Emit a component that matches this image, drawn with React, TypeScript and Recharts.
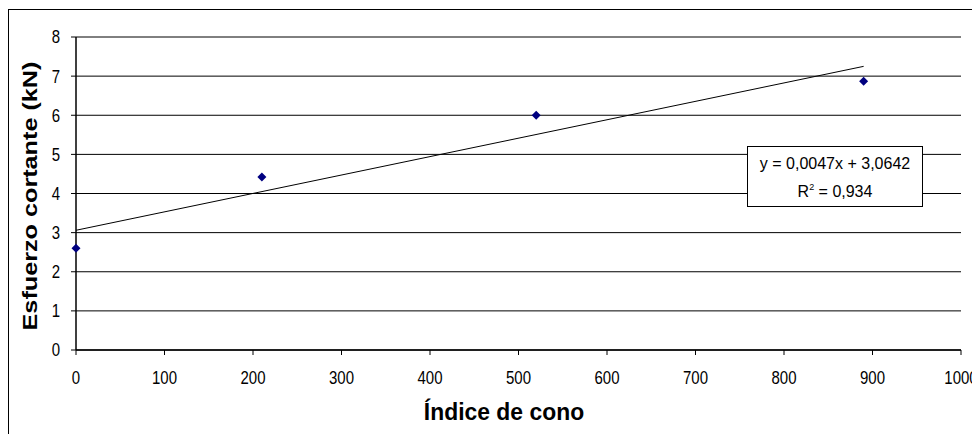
import { ComposedChart, Scatter, Line, XAxis, YAxis, CartesianGrid } from "recharts";

// valores
const indiceCono = [0, 210, 520, 890];
const esfuerzo = [2.6, 4.42, 6.0, 6.87];

// linea de tendencia (extremos)
const trendX = [0, 890];
const trendY = [3.06, 7.25];

const xTicks = [0, 100, 200, 300, 400, 500, 600, 700, 800, 900, 1000];
const yTicks = [0, 1, 2, 3, 4, 5, 6, 7, 8];

const ecuacion = "y = 0,0047x + 3,0642";
const r2 = "0,934";

const points = indiceCono.map((x, i) => ({ x, y: esfuerzo[i] }));
const trend = trendX.map((x, i) => ({ x, t: trendY[i] }));

const font = "'Liberation Sans', Arial, sans-serif";

// etiquetas de los ejes un poco estiradas en vertical, como en el original
const TickX = (props: any) => {
  const { x, y, payload } = props;
  return (
    <g transform={`translate(${x},${y}) scale(1,1.2)`}>
      <text x={0} y={0} dy="0.71em" textAnchor="middle" fontFamily={font} fontSize={15} fill="#000">
        {payload.value}
      </text>
    </g>
  );
};

const TickY = (props: any) => {
  const { x, y, payload } = props;
  return (
    <g transform={`translate(${x},${y}) scale(1,1.2)`}>
      <text x={0} y={0} dy="0.355em" textAnchor="end" fontFamily={font} fontSize={15} fill="#000">
        {payload.value}
      </text>
    </g>
  );
};

const Diamond = (props: any) => {
  const { cx, cy } = props;
  if (cx == null || cy == null) return null;
  const r = 4.5;
  return <polygon points={`${cx},${cy - r} ${cx + r},${cy} ${cx},${cy + r} ${cx - r},${cy}`} fill="#000080" />;
};

export default function App() {
  return (
    <div
      style={{
        position: "relative",
        width: 971,
        height: 424,
        marginTop: 1,
        borderTop: "1px solid #000",
        borderLeft: "1px solid #000",
        background: "#fff",
        fontFamily: font,
      }}
    >
      <ComposedChart width={971} height={424} margin={{ top: 27, right: 19, left: 0, bottom: 0 }}>
        <CartesianGrid vertical={false} stroke="#000" strokeWidth={1} />
        <XAxis
          type="number"
          dataKey="x"
          domain={[0, 1000]}
          ticks={xTicks}
          interval={0}
          height={84}
          tickSize={5}
          tickMargin={16}
          axisLine={{ stroke: "#000", strokeWidth: 1.5 }}
          tickLine={{ stroke: "#000" }}
          tick={<TickX />}
        />
        <YAxis
          type="number"
          domain={[0, 8]}
          ticks={yTicks}
          interval={0}
          width={67}
          tickSize={5}
          tickMargin={11}
          axisLine={{ stroke: "#000", strokeWidth: 1.5 }}
          tickLine={{ stroke: "#000" }}
          tick={<TickY />}
        />
        <Line
          data={trend}
          dataKey="t"
          stroke="#000"
          strokeWidth={1}
          dot={false}
          activeDot={false}
          isAnimationActive={false}
        />
        <Scatter data={points} dataKey="y" shape={<Diamond />} isAnimationActive={false} />
      </ComposedChart>

      <div
        style={{
          position: "absolute",
          left: 21 - 150,
          top: 186 - 15,
          width: 300,
          height: 30,
          lineHeight: "30px",
          textAlign: "center",
          transform: "rotate(-90deg) scale(1.2,1)",
          fontWeight: "bold",
          fontSize: 21,
        }}
      >
        Esfuerzo cortante (kN)
      </div>

      <div
        style={{
          position: "absolute",
          left: 495 - 150,
          top: 402 - 15,
          width: 300,
          height: 30,
          lineHeight: "30px",
          textAlign: "center",
          transform: "scale(1.09,1.15)",
          fontWeight: "bold",
          fontSize: 21,
        }}
      >
        Índice de cono
      </div>

      <div
        style={{
          position: "absolute",
          left: 738,
          top: 136,
          width: 176,
          height: 61,
          border: "1px solid #000",
          background: "#fff",
          textAlign: "center",
          fontSize: 16,
          paddingTop: 5,
          boxSizing: "border-box",
        }}
      >
        <div style={{ lineHeight: "24px", height: 28 }}>{ecuacion}</div>
        <div style={{ lineHeight: "24px" }}>
          R<sup style={{ fontSize: 9, verticalAlign: "top", lineHeight: "14px" }}>2</sup> = {r2}
        </div>
      </div>
    </div>
  );
}
